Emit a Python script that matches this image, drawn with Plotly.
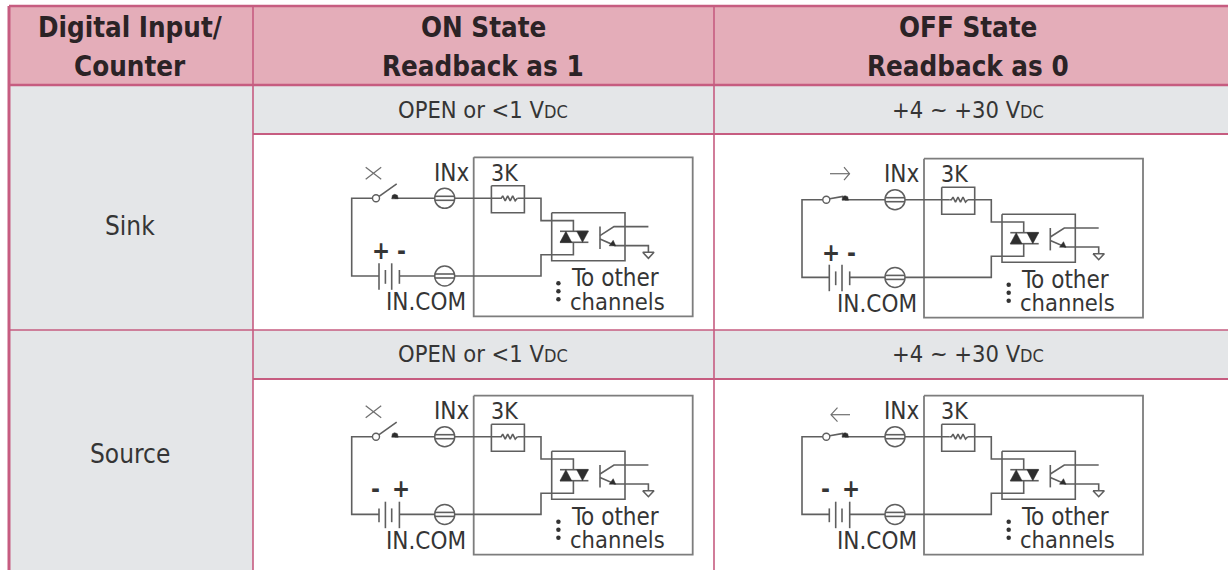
import plotly.graph_objects as go

PAGE_W, PAGE_H = 1228, 570
FONT = "DejaVu Sans Condensed, DejaVu Sans"
INK = "#353535"
WIRE = "#5f5f5f"
BORDER = "#c65c80"
HEAD = "#e4adb9"
GREY = "#e4e6e8"

# table structure
col_edges = [9, 253, 714, 1228]
row_edges = [6, 85, 134, 330, 379, 570]
header_cells = ["Digital Input/<br>Counter", "ON State<br>Readback as 1", "OFF State<br>Readback as 0"]
header_x = [130, 483, 968]
row_labels = ["Sink", "Source"]
row_label_y = [226, 454]
level_texts = ['OPEN or &lt;1 V<span style="font-size:18px">DC</span>',
               '+4 ~ +30 V<span style="font-size:18px">DC</span>']
level_x = [483, 968]
level_y = [110, 354]

# diagrams: box-left, box-top, battery polarity, switch state
diagrams = [
    dict(ox=473.7, oy=157.3, pol="sink", state="open", mark="x"),
    dict(ox=924.0, oy=158.7, pol="sink", state="closed", mark="right"),
    dict(ox=473.7, oy=395.7, pol="source", state="open", mark="x"),
    dict(ox=924.0, oy=395.7, pol="source", state="closed", mark="left"),
]

fig = go.Figure()


def rect(x0, y0, x1, y1, fill):
    fig.add_shape(type="rect", x0=x0, y0=y0, x1=x1, y1=y1, fillcolor=fill, line_width=0, layer="below")


def rule(x0, y0, x1, y1, w=1.6, c=BORDER):
    fig.add_shape(type="line", x0=x0, y0=y0, x1=x1, y1=y1, line=dict(color=c, width=w), layer="below")


def label(x, y, s, size=22, color=INK, bold=False):
    fig.add_annotation(x=x, y=y, text=f"<b>{s}</b>" if bold else s, showarrow=False,
                       font=dict(family=FONT, size=size, color=color), xanchor="center", yanchor="middle")


# table fills
rect(col_edges[0], row_edges[0], col_edges[3], row_edges[1], HEAD)
rect(col_edges[0], row_edges[1], col_edges[1], row_edges[5], GREY)
rect(col_edges[1], row_edges[1], col_edges[3], row_edges[2], GREY)
rect(col_edges[1], row_edges[3], col_edges[3], row_edges[4], GREY)

# table rules
rule(col_edges[0], row_edges[0], col_edges[3], row_edges[0], 2.4)
rule(col_edges[0], row_edges[1], col_edges[3], row_edges[1], 2.4)
rule(col_edges[1], row_edges[2], col_edges[3], row_edges[2], 2)
rule(col_edges[0], row_edges[3], col_edges[3], row_edges[3], 1.5)
rule(col_edges[1], row_edges[4], col_edges[3], row_edges[4], 2)
rule(col_edges[0], row_edges[0], col_edges[0], row_edges[5], 3)
rule(col_edges[1], row_edges[0], col_edges[1], row_edges[5], 1.6)
rule(col_edges[2], row_edges[0], col_edges[2], row_edges[5], 1.6)

# table text
for x, s in zip(header_x, header_cells):
    a, b = s.split("<br>")
    label(x, 27, a, 27.5, "#2b2326", True)
    label(x, 66, b, 27.5, "#2b2326", True)
for y, s in zip(row_label_y, row_labels):
    label(130, y, s, 26)
for y in level_y:
    for x, s in zip(level_x, level_texts):
        label(x, y, s, 23.5)


def diagram(ox, oy, pol, state, mark):
    wx, wy = [], []
    tx, ty = [], []          # filled polygons
    bx, by = [], []          # box outlines
    thin_x, thin_y = [], []

    def seg(*pts, target="w"):
        xs = [ox + p[0] for p in pts] + [None]
        ys = [oy + p[1] for p in pts] + [None]
        if target == "w":
            wx.extend(xs); wy.extend(ys)
        elif target == "b":
            bx.extend(xs); by.extend(ys)
        elif target == "t":
            thin_x.extend(xs); thin_y.extend(ys)
        else:
            tx.extend(xs); ty.extend(ys)

    up, lo, left = 41, 118.7, -122
    # outer box (right side reaches 219)
    seg((0, 0), (219, 0), (219, 159), (0, 159), (0, 0), target="b")
    # resistor box, opto box
    seg((17.7, 28.5), (50.7, 28.5), (50.7, 55.5), (17.7, 55.5), (17.7, 28.5), target="w")
    seg((78, 55.5), (151.3, 55.5), (151.3, 103.5), (78, 103.5), (78, 55.5), target="w")
    # loop
    seg((-97, up), (left, up), (left, lo), (-94.7, lo))
    bar = -74.3
    seg((bar, lo), (-39, lo))
    seg((-19, lo), (67.3, lo), (67.3, 97.5), (99.7, 97.5), (99.7, 85))
    # upper wire
    contact = -79
    seg((contact, up), (-39, up))
    seg((-19, up), (25.3, up))
    seg((25.3, up), (27.5, up), (29, up - 2.5), (31.5, up + 2.5), (34, up - 2.5), (36.5, up + 2.5),
        (39, up - 2.5), (41.5, up + 2.5), (43.7, up))
    seg((43.7, up), (67.3, up), (67.3, 63.3), (99.7, 63.3), (99.7, 74))
    # terminals
    for yy in (up, lo):
        seg((-39, yy - 2), (-19, yy - 2), target="w")
        seg((-39, yy + 2), (-19, yy + 2), target="w")
    # battery
    tall, short = (106, 132.5), (112.7, 126.5)
    if pol == "sink":
        plates = [(-94.7, tall), (-88.3, short), (-82, tall), (-74.3, short)]
    else:
        plates = [(-94.7, short), (-88.3, tall), (-82, short), (-74.3, tall)]
    for px, (a, b) in plates:
        seg((px, a), (px, b))
    # switch
    if state == "open":
        seg((-95.3, 39.5), (-77, 26.5))
    else:
        seg((-95.7, up - 0.7), (-80.7, up - 3.3))
    # optocoupler diodes
    seg((86.3, 74), (114.7, 74), target="w")
    seg((86.3, 85), (114.7, 85), target="w")
    seg((86.3, 85), (98, 85), (92.2, 74), (86.3, 85), target="f")
    seg((103, 74), (114.7, 74), (108.8, 85), (103, 74), target="f")
    # phototransistor
    seg((126.3, 69.3), (126.3, 91.7))
    seg((126.3, 78.3), (140.3, 69.3), (174.7, 69.3))
    seg((126.3, 81.7), (141.3, 88.3), (174.7, 88.3), (174.7, 95))
    seg((169, 95), (180.3, 95), (174.7, 101), (169, 95))
    seg((135.5, 88.5), (142, 88.5), (139.5, 83), (135.5, 88.5), target="f")
    # contact
    seg((-82, up + 0.5), (-75.5, up + 0.5), (-76.3, up - 3), (-79, up - 4), (-81.3, up - 3),
        (-82, up + 0.5), target="f")
    # state mark
    if mark == "x":
        seg((-108, 10), (-92.5, 22), target="t")
        seg((-108, 22), (-92.5, 10), target="t")
    elif mark == "right":
        seg((-94, 15), (-74.5, 15), target="t")
        seg((-80, 8.5), (-74.5, 15), (-80, 21.5), target="t")
    else:
        seg((-93, 19), (-74, 19), target="t")
        seg((-86.5, 12), (-93, 19), (-86.5, 26), target="t")

    fig.add_trace(go.Scatter(x=bx, y=by, mode="lines", line=dict(color="#7d7d7d", width=1.8), hoverinfo="skip"))
    fig.add_trace(go.Scatter(x=wx, y=wy, mode="lines", line=dict(color=WIRE, width=1.6), hoverinfo="skip"))
    fig.add_trace(go.Scatter(x=thin_x, y=thin_y, mode="lines", line=dict(color="#6f6f6f", width=1.2), hoverinfo="skip"))
    fig.add_trace(go.Scatter(x=tx, y=ty, mode="lines", fill="toself", fillcolor="#2e2e2e",
                             line=dict(color="#2e2e2e", width=0.5), hoverinfo="skip"))
    # circles: switch pivot, terminals
    fig.add_trace(go.Scatter(x=[ox - 97.7], y=[oy + up], mode="markers", hoverinfo="skip",
                             marker=dict(size=7, color="white", line=dict(color=WIRE, width=1.4))))
    fig.add_trace(go.Scatter(x=[ox - 29, ox - 29], y=[oy + up, oy + lo], mode="markers", hoverinfo="skip",
                             marker=dict(size=20, color="rgba(0,0,0,0)", line=dict(color=WIRE, width=1.5))))
    fig.add_trace(go.Scatter(x=[ox + 84.7] * 3, y=[oy + 126, oy + 134, oy + 142], mode="markers",
                             hoverinfo="skip", marker=dict(size=4.5, color="#333333")))
    # text
    label(ox - 22, oy + 15.5, "INx", 24)
    label(ox + 30.3, oy + 15.5, "3K", 23)
    label(ox - 47.5, oy + 145, "IN.COM", 24)
    label(ox + 141, oy + 121, "To other", 24)
    label(ox + 143.5, oy + 144.5, "channels", 23.5)
    if pol == "sink":
        label(ox - 92.7, oy + 94, "<b>+</b>", 24)
        label(ox - 72.7, oy + 94, "<b>-</b>", 24)
    else:
        label(ox - 98.7, oy + 93.5, "<b>-</b>", 24)
        label(ox - 72.7, oy + 93.5, "<b>+</b>", 24)


for d in diagrams:
    diagram(**d)

fig.update_layout(width=PAGE_W, height=PAGE_H,
                  margin=dict(l=0, r=0, t=0, b=0), showlegend=False,
                  paper_bgcolor="white", plot_bgcolor="white",
                  xaxis=dict(range=[0, PAGE_W], visible=False, fixedrange=True),
                  yaxis=dict(range=[PAGE_H, 0], visible=False, fixedrange=True))
# Drop the page's default body margin so the figure fills the window exactly.
fig.write_html("out.html", config=dict(displayModeBar=False),
               post_script="document.body.style.margin='0';document.documentElement.style.overflow='hidden';")
